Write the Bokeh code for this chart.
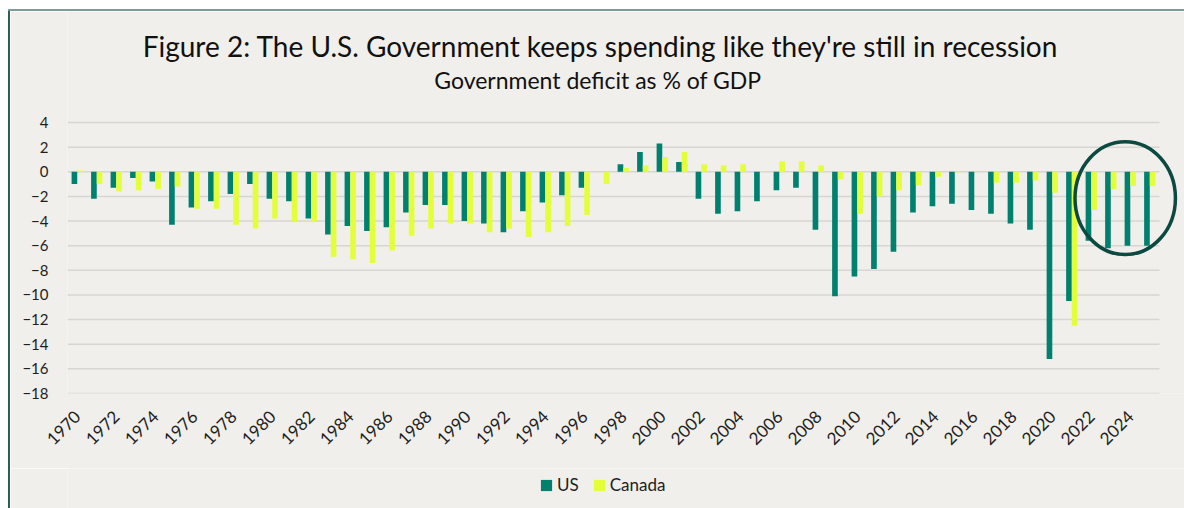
from bokeh.plotting import figure
from bokeh.models import (Range1d, FixedTicker, Label, Legend, LegendItem, Spacer,
                          ColumnDataSource, GlobalInlineStyleSheet)
from bokeh.layouts import column, row
from bokeh.transform import dodge
from bokeh.embed import file_html
from bokeh.resources import INLINE
import math

# ---------------- data ----------------
years = list(range(1970, 2026))
us = [-1.0, -2.2, -1.3, -0.5, -0.8, -4.3, -2.9, -2.4, -1.8, -1.0,
      -2.2, -2.4, -3.8, -5.1, -4.4, -4.8, -4.5, -3.3, -2.7, -2.7,
      -4.0, -4.2, -4.9, -3.2, -2.5, -1.9, -1.3, 0.0, 0.6, 1.6,
      2.3, 0.8, -2.2, -3.4, -3.2, -2.4, -1.5, -1.3, -4.7, -10.1,
      -8.5, -7.9, -6.5, -3.3, -2.8, -2.6, -3.1, -3.4, -4.2, -4.7,
      -15.2, -10.5, -5.6, -6.2, -6.0, -6.0]
canada = [0.1, -1.0, -1.6, -1.5, -1.4, -1.2, -3.0, -3.0, -4.3, -4.6,
          -3.8, -4.0, -4.0, -6.9, -7.1, -7.4, -6.4, -5.2, -4.6, -4.2,
          -4.2, -4.9, -4.6, -5.3, -4.9, -4.4, -3.5, -1.0, 0.3, 0.5,
          1.2, 1.6, 0.6, 0.5, 0.6, 0.05, 0.85, 0.85, 0.5, -0.6,
          -3.4, -2.0, -1.5, -1.1, -0.4, -0.05, -0.02, -0.9, -0.9, -0.7,
          -1.7, -12.5, -3.1, -1.4, -1.15, -1.15]
x_ticks = [1970, 1972, 1974, 1976, 1978, 1980, 1982, 1984, 1986, 1988,
           1990, 1992, 1994, 1996, 1998, 2000, 2002, 2004, 2006, 2008,
           2010, 2012, 2014, 2016, 2018, 2020, 2022, 2024]
y_ticks = [4, 2, 0, -2, -4, -6, -8, -10, -12, -14, -16, -18]
series_names = ["US", "Canada"]
title_text = "Figure 2: The U.S. Government keeps spending like they're still in recession"
subtitle_text = "Government deficit as % of GDP"

# ---------------- styling ----------------
US_COLOR = "#00806e"
CA_COLOR = "#e4ff3a"
BG = "#f0efeb"
GRID = "#d7d6d2"
CIRCLE = "#0c4a41"
FONT = "Lato"
TXT = "#1e1e1e"

page_css = GlobalInlineStyleSheet(css="html, body { margin: 0 !important; padding: 0 !important; overflow: hidden !important; }")

p = figure(frame_width=1117, frame_height=382, output_backend="svg", toolbar_location=None,
           x_range=Range1d(1969.5, 2026.78), y_range=Range1d(-18, 13.01),
           min_border=0, min_border_left=57, min_border_right=0,
           min_border_top=0, min_border_bottom=75)
p.background_fill_color = BG
p.border_fill_color = BG
p.outline_line_color = None
p.xgrid.visible = False
p.ygrid.visible = False

# horizontal gridlines (limited to the category span)
p.segment(x0=[years[0] - 0.5] * len(y_ticks), x1=[years[-1] + 0.5] * len(y_ticks),
          y0=y_ticks, y1=y_ticks, line_color=GRID, line_width=1.5)

cds = ColumnDataSource(dict(year=years, us=us, canada=canada))
bw = 0.29
r_us = p.vbar(x=dodge("year", -bw / 2, range=p.x_range), top="us", bottom=0, width=bw,
              source=cds, fill_color=US_COLOR, line_color=None)
r_ca = p.vbar(x=dodge("year", bw / 2, range=p.x_range), top="canada", bottom=0, width=bw,
              source=cds, fill_color=CA_COLOR, line_color=None)

# highlight circle around the latest years
p.ellipse(x=[2023.74], y=[-2.14], width=5.15, height=9.15, fill_color=None,
          line_color=CIRCLE, line_width=3.5)

# axes
p.yaxis.ticker = FixedTicker(ticks=y_ticks)
p.yaxis.axis_line_color = None
p.yaxis.major_tick_line_color = None
p.yaxis.minor_tick_line_color = None
p.yaxis.major_tick_out = 0
p.yaxis.major_tick_in = 0
p.yaxis.major_label_standoff = 19
p.yaxis.major_label_text_font = FONT
p.yaxis.major_label_text_font_size = "15px"
p.yaxis.major_label_text_color = TXT

p.xaxis.ticker = FixedTicker(ticks=x_ticks)
p.xaxis.axis_line_color = None
p.xaxis.major_tick_line_color = None
p.xaxis.minor_tick_line_color = None
p.xaxis.major_tick_out = 0
p.xaxis.major_tick_in = 0
p.xaxis.major_label_standoff = 20
p.xaxis.major_label_orientation = math.pi / 4
p.xaxis.major_label_text_font = FONT
p.xaxis.major_label_text_font_size = "17px"
p.xaxis.major_label_text_color = TXT

# titles
p.add_layout(Label(x=1996.83, y=10.17, text=title_text, text_align="center",
                   text_baseline="middle", text_font=FONT, text_font_size="28px",
                   text_color="#111111"))
p.add_layout(Label(x=1996.7, y=7.41, text=subtitle_text, text_align="center",
                   text_baseline="middle", text_font=FONT, text_font_size="23px",
                   text_color="#111111"))

# legend strip (separate small figure below the chart; its boxes share the data
# source but fall outside its ranges, so only the legend swatches show)
p2 = figure(frame_width=1174, frame_height=40, output_backend="svg", toolbar_location=None,
            x_range=Range1d(0, 1), y_range=Range1d(0, 1), min_border=0)
p2.background_fill_color = BG
p2.border_fill_color = BG
p2.outline_line_color = None
p2.axis.visible = False
p2.grid.visible = False
k_us = p2.quad(left="year", right="year", top="us", bottom=0, source=cds,
               fill_color=US_COLOR, line_color=None)
k_ca = p2.quad(left="year", right="year", top="canada", bottom=0, source=cds,
               fill_color=CA_COLOR, line_color=None)
legend = Legend(items=[LegendItem(label=series_names[0], renderers=[k_us]),
                       LegendItem(label=series_names[1], renderers=[k_ca])],
                orientation="horizontal", location=(529, 13),
                glyph_width=14, glyph_height=14, label_standoff=4, spacing=13,
                padding=0, margin=0, background_fill_alpha=0, border_line_color=None,
                label_height=20, label_text_baseline="middle",
                label_text_font=FONT, label_text_font_size="17px", label_text_color=TXT)
p2.add_layout(legend, "center")

top_white = Spacer(width=1184, height=9)
top_line = Spacer(width=1176, height=2, styles={"background-color": "#7d9b97"})
left_line = Spacer(width=2, height=497, styles={"background-color": "#2e5d58"})
layout = column(top_white, row(Spacer(width=8), column(top_line, row(left_line, column(p, p2)))))
layout.stylesheets = [page_css]

open("out.html", "w").write(file_html(layout, INLINE))
